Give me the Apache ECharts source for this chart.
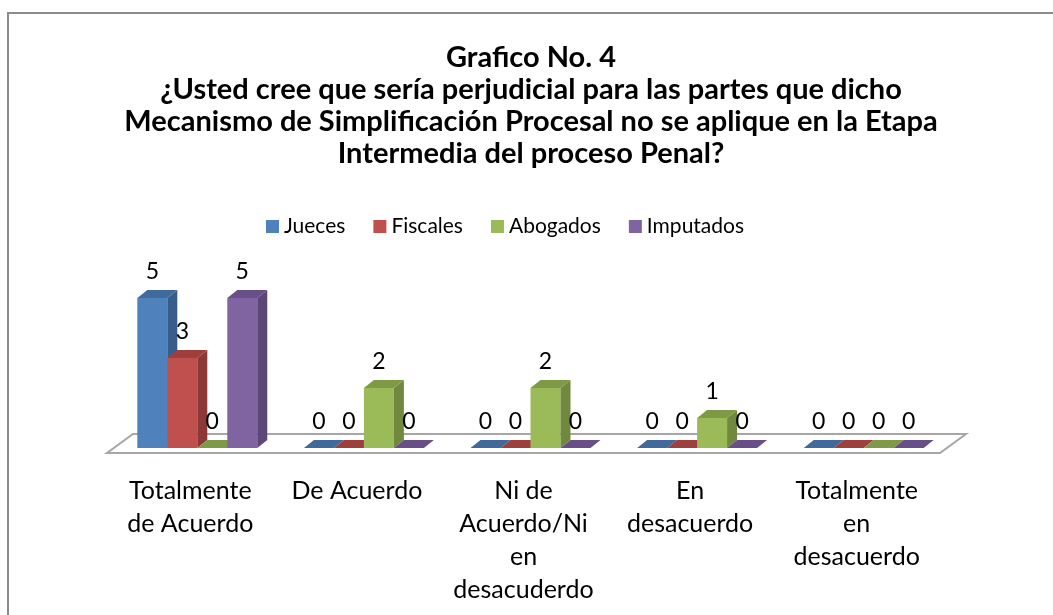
<!DOCTYPE html>
<html>
<head>
<meta charset="utf-8">
<script src="https://cdn.jsdelivr.net/npm/echarts@6/dist/echarts.min.js"></script>
<style>
html, body { margin: 0; padding: 0; background: #fff; overflow: hidden; }
#frame { position: absolute; left: 7px; top: 12px; width: 1100px; height: 700px; border: 2px solid #8c8c8c; box-sizing: border-box; }
#chart { position: absolute; left: 0; top: 0; width: 1053px; height: 615px; }
</style>
</head>
<body>
<div id="frame"></div>
<div id="chart"></div>
<script>
// categorias y valores del grafico
var categorias = ["Totalmente\nde Acuerdo", "De Acuerdo", "Ni de\nAcuerdo/Ni\nen\ndesacuderdo", "En\ndesacuerdo", "Totalmente\nen\ndesacuerdo"];
var jueces = [5, 0, 0, 0, 0];
var fiscales = [3, 0, 0, 0, 0];
var abogados = [0, 2, 2, 1, 0];
var imputados = [5, 0, 0, 0, 0];

var nombres = ["Jueces", "Fiscales", "Abogados", "Imputados"];
var frente = ["#4F81BD", "#C0504D", "#9BBB59", "#8064A2"];
var lado = ["#385D8A", "#8C3836", "#71893F", "#5C4776"];
var arriba = ["#41699B", "#9E3F3C", "#7F9A47", "#684F88"];

var FONT = "Lato, 'Open Sans', sans-serif";
var myChart = echarts.init(document.getElementById('chart'));

// piso 3d
function renderPiso(params, api) {
    var cs = params.coordSys;
    var by = cs.y + cs.height;
    return {
        type: 'polygon',
        shape: { points: [[cs.x, by + 5], [cs.x + cs.width, by + 5], [cs.x + cs.width + 26, by - 14], [cs.x + 26, by - 14]] },
        style: { fill: '#fff', stroke: '#a6a6a6', lineWidth: 2 }
    };
}

function makeRender(s) {
    return function (params, api) {
        var idx = api.value(0), val = api.value(1);
        var base = api.coord([idx, 0]);
        var top = api.coord([idx, val]);
        var band = api.size([1, 0])[0];
        var bw = band * 0.18;
        var x0 = base[0] + band * 0.042 - 2 * bw + s * bw;
        var by = base[1], ty = top[1];
        var dx = 10, dy = -8;
        var kids = [];
        if (val > 0) {
            kids.push({ type: 'rect', shape: { x: x0, y: ty, width: bw, height: by - ty }, style: { fill: frente[s] } });
            kids.push({ type: 'polygon', shape: { points: [[x0 + bw, ty], [x0 + bw + dx, ty + dy], [x0 + bw + dx, by + dy], [x0 + bw, by]] }, style: { fill: lado[s] } });
        }
        kids.push({ type: 'polygon', shape: { points: [[x0, ty], [x0 + dx, ty + dy], [x0 + bw + dx, ty + dy], [x0 + bw, ty]] }, style: { fill: arriba[s] } });
        kids.push({ type: 'text', x: x0 + bw / 2, y: ty - 26, style: { text: String(val), fill: '#000', font: '23px ' + FONT, align: 'center', verticalAlign: 'middle' } });
        return { type: 'group', children: kids };
    };
}

var valores = [jueces, fiscales, abogados, imputados];
var series = [{
    type: 'custom', name: 'piso', renderItem: renderPiso, data: [[0, 0]], silent: true
}];
for (var i = 0; i < valores.length; i++) {
    series.push({
        type: 'custom',
        name: nombres[i],
        itemStyle: { color: frente[i] },
        renderItem: makeRender(i),
        encode: { x: 0, y: 1 },
        data: valores[i].map(function (v, k) { return [k, v]; })
    });
}

myChart.setOption({
    animation: false,
    title: {
        text: 'Grafico No. 4\n¿Usted cree que sería perjudicial para las partes que dicho\nMecanismo de Simplificación Procesal no se aplique en la Etapa\nIntermedia del proceso Penal?',
        left: 526,
        textAlign: 'center',
        top: 37,
        textStyle: { fontFamily: FONT, fontWeight: 'bold', fontSize: 29, lineHeight: 32, color: '#000' }
    },
    legend: {
        data: nombres,
        top: 211,
        left: 261,
        icon: 'rect',
        itemWidth: 13,
        itemHeight: 13,
        itemGap: 28,
        textStyle: { fontFamily: FONT, fontSize: 21, color: '#000' }
    },
    grid: { left: 107, width: 833, top: 268, bottom: 167 },
    xAxis: {
        type: 'category',
        data: categorias,
        axisLine: { show: false },
        axisTick: { show: false },
        axisLabel: { interval: 0, margin: 26, fontFamily: FONT, fontSize: 25, lineHeight: 33, color: '#000' }
    },
    yAxis: {
        type: 'value', min: 0, max: 6, interval: 1,
        show: false
    },
    series: series
});
</script>
</body>
</html>
